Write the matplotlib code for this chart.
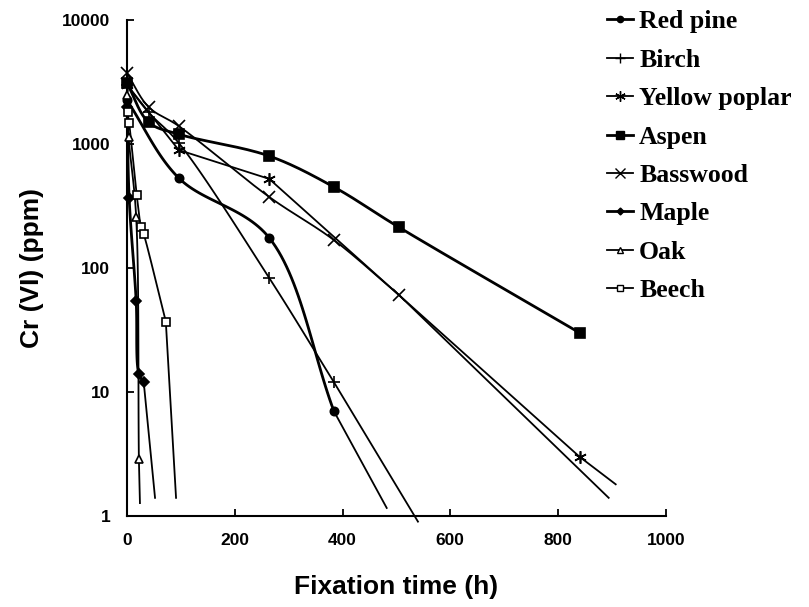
import matplotlib
matplotlib.use("Agg")
import matplotlib.pyplot as plt
import numpy as np
from matplotlib.lines import Line2D

# Cr(VI) remaining in solution vs fixation time, per wood species
red_pine_h = [0, 96, 264, 384]
red_pine_cr = [2250, 532, 175, 7]

birch_h = [0, 40, 96, 264, 384]
birch_cr = [3000, 1800, 1020, 83, 12]

yellow_poplar_h = [0, 96, 264, 840]
yellow_poplar_cr = [3000, 895, 523, 3]

aspen_h = [0, 40, 96, 264, 384, 504, 840]
aspen_cr = [3100, 1500, 1200, 800, 450, 214, 30]

basswood_h = [0, 40, 96, 264, 384, 504]
basswood_cr = [3730, 1990, 1396, 374, 168, 61]

maple_h = [0, 4, 17, 22, 31]
maple_cr = [2000, 366, 54, 14, 12]

oak_h = [0, 3, 17, 22]
oak_cr = [2500, 1140, 257, 2.9]

beech_h = [1, 4, 18, 26, 31, 72]
beech_cr = [1810, 1480, 387, 215, 188, 37]

# where the fitted decay lines run out near 1 ppm
trend_end_h = {"Red pine": 482, "Birch": 540, "Yellow poplar": 907,
               "Basswood": 894, "Maple": 52, "Oak": 24, "Beech": 91}
trend_end_cr = {"Red pine": 1.16, "Birch": 0.9, "Yellow poplar": 1.8,
                "Basswood": 1.4, "Maple": 1.4, "Oak": 1.27, "Beech": 1.4}

# name, hours, ppm, marker, face colour, line width, marker size, smoothed
series = [
    ("Red pine", red_pine_h, red_pine_cr, "o", "k", 2.0, 6, True),
    ("Birch", birch_h, birch_cr, "+", "k", 1.3, 9, True),
    ("Yellow poplar", yellow_poplar_h, yellow_poplar_cr, (6, 2, 0), "k", 1.3, 9, False),
    ("Aspen", aspen_h, aspen_cr, "s", "k", 2.0, 7, True),
    ("Basswood", basswood_h, basswood_cr, "x", "k", 1.3, 8, True),
    ("Maple", maple_h, maple_cr, "D", "k", 2.0, 5, True),
    ("Oak", oak_h, oak_cr, "^", "white", 1.3, 6, True),
    ("Beech", beech_h, beech_cr, "s", "white", 1.3, 6, True),
]


def smooth(h, cr, n=30):
    # centripetal Catmull-Rom through the points, in (h, log cr) space
    pts = np.column_stack([np.asarray(h, float) / 1000 * 539,
                           np.log10(np.asarray(cr, float)) / 4 * 496])
    if len(pts) < 3:
        return h, cr
    pts = np.vstack([2 * pts[0] - pts[1], pts, 2 * pts[-1] - pts[-2]])
    out = []
    for i in range(1, len(pts) - 2):
        p0, p1, p2, p3 = pts[i - 1:i + 3]
        t0 = 0.0
        t1 = t0 + np.linalg.norm(p1 - p0) ** 0.5
        t2 = t1 + np.linalg.norm(p2 - p1) ** 0.5
        t3 = t2 + np.linalg.norm(p3 - p2) ** 0.5
        t = np.linspace(t1, t2, n)[:, None]
        a1 = (t1 - t) / (t1 - t0) * p0 + (t - t0) / (t1 - t0) * p1
        a2 = (t2 - t) / (t2 - t1) * p1 + (t - t1) / (t2 - t1) * p2
        a3 = (t3 - t) / (t3 - t2) * p2 + (t - t2) / (t3 - t2) * p3
        b1 = (t2 - t) / (t2 - t0) * a1 + (t - t0) / (t2 - t0) * a2
        b2 = (t3 - t) / (t3 - t1) * a2 + (t - t1) / (t3 - t1) * a3
        out.append((t2 - t) / (t2 - t1) * b1 + (t - t1) / (t2 - t1) * b2)
    out = np.vstack(out)
    return out[:, 0] / 539 * 1000, 10 ** (out[:, 1] / 496 * 4)


fig = plt.figure(figsize=(8.09, 6.07), dpi=100)
ax = fig.add_axes([0.157, 0.150, 0.666, 0.817])

handles = []
for name, h, cr, mk, fc, lw, ms, smoothed in series:
    sx, sy = smooth(h, cr) if smoothed else (h, cr)
    ax.plot(sx, sy, color="k", lw=lw, clip_on=False, zorder=2)
    ax.plot(h, cr, ls="none", marker=mk, ms=ms, mfc=fc, mec="k",
            mew=1.2, clip_on=False, zorder=3)
    if name in trend_end_h:
        ax.plot([h[-1], trend_end_h[name]], [cr[-1], trend_end_cr[name]],
                color="k", lw=1.3, clip_on=False, zorder=2)
    handles.append(Line2D([], [], color="k", lw=lw, marker=mk, ms=ms - 1.5,
                          mfc=fc, mec="k", mew=1.0, label=name))

ax.set_yscale("log")
ax.set_xlim(0, 1000)
ax.set_ylim(1, 10000)
ax.set_xticks([0, 200, 400, 600, 800, 1000])
ax.set_yticks([1, 10, 100, 1000, 10000])
ax.set_yticklabels(["1", "10", "100", "1000", "10000"])
ax.minorticks_off()
ax.spines["top"].set_visible(False)
ax.spines["right"].set_visible(False)
for s in ("left", "bottom"):
    ax.spines[s].set_linewidth(1.5)
ax.tick_params(direction="in", length=5, width=1.3, pad=12)
for lab in ax.get_xticklabels() + ax.get_yticklabels():
    lab.set_fontfamily("Liberation Sans")
    lab.set_fontweight("bold")
    lab.set_fontsize(12.5)

ax.set_xlabel("Fixation time (h)", fontfamily="Liberation Sans",
              fontweight="bold", fontsize=19, labelpad=20)
ax.set_ylabel("Cr (VI) (ppm)", fontfamily="Liberation Sans",
              fontweight="bold", fontsize=19, labelpad=13)

fig.legend(handles=handles, loc="upper left", bbox_to_anchor=(0.7376, 1.0),
           frameon=False, handlelength=1.0, handletextpad=0.25,
           labelspacing=0.6, borderaxespad=0,
           prop={"family": "Liberation Serif", "weight": "bold", "size": 18.5})

fig.savefig("out.png", dpi=100)
